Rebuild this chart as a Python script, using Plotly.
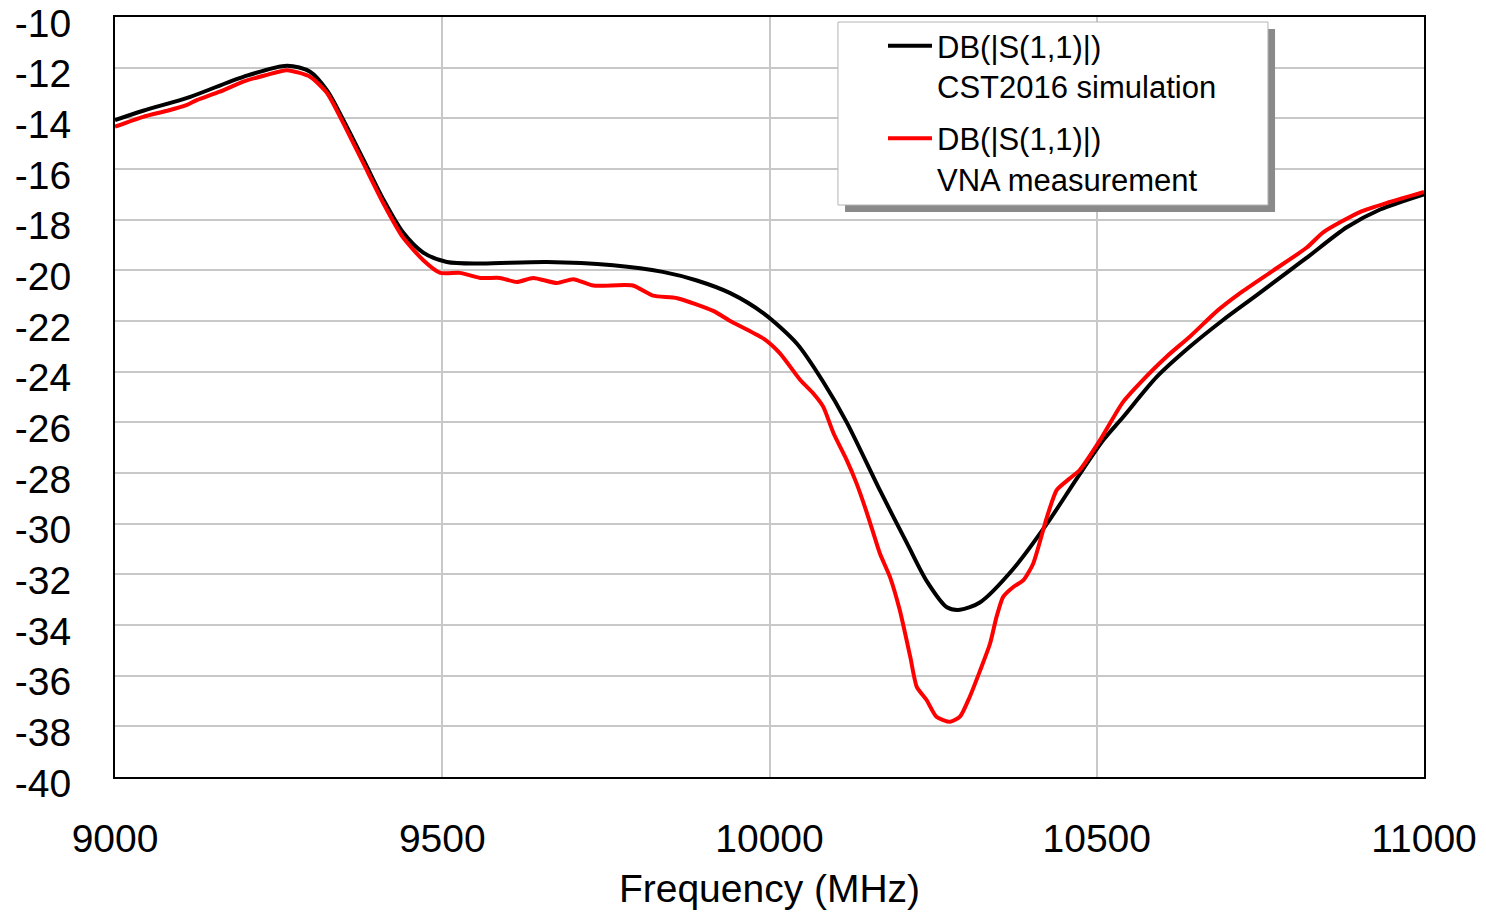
import plotly.graph_objects as go

# CST2016 simulation, DB(|S(1,1)|)
sim_freq = [9000, 9043, 9115, 9196, 9263, 9298, 9324, 9349, 9380, 9410, 9440, 9471, 9507,
            9558, 9660, 9761, 9837, 9889, 9940, 9991, 10042, 10082, 10118, 10169, 10210,
            10241, 10271, 10291, 10322, 10372, 10424, 10470, 10510, 10540, 10592, 10643,
            10693, 10745, 10795, 10821, 10882, 10933, 11000]
sim_db = [-14.07, -13.7, -13.15, -12.36, -11.92, -12.16, -12.9, -14.07, -15.65, -17.2, -18.5,
          -19.3, -19.67, -19.73, -19.67, -19.8, -20.06, -20.4, -20.9, -21.7, -22.9, -24.4,
          -26.0, -28.7, -30.77, -32.3, -33.3, -33.4, -33.1, -31.8, -30.0, -28.2, -26.7,
          -25.8, -24.2, -23.0, -21.96, -20.97, -20.0, -19.5, -18.3, -17.6, -17.0]

# VNA measurement, DB(|S(1,1)|)
vna_freq = [9000, 9043, 9080, 9110, 9125, 9160, 9196, 9230, 9263, 9298, 9324, 9349, 9380,
            9410, 9440, 9471, 9497, 9527, 9558, 9588, 9614, 9639, 9675, 9700, 9731, 9791,
            9822, 9859, 9914, 9940, 9991, 10016, 10047, 10067, 10082, 10098, 10118, 10133,
            10149, 10159, 10169, 10184, 10199, 10215, 10225, 10240, 10255, 10276, 10291,
            10306, 10322, 10337, 10347, 10357, 10373, 10388, 10403, 10424, 10439, 10459,
            10474, 10505, 10540, 10566, 10607, 10643, 10684, 10719, 10770, 10821, 10846,
            10902, 10948, 11000]
vna_db = [-14.33, -13.94, -13.7, -13.47, -13.28, -12.95, -12.55, -12.3, -12.1, -12.36, -13.0,
          -14.2, -15.8, -17.35, -18.7, -19.6, -20.1, -20.1, -20.3, -20.3, -20.46, -20.3,
          -20.5, -20.35, -20.6, -20.6, -21.0, -21.1, -21.6, -22.0, -22.7, -23.28, -24.33,
          -24.86, -25.38, -26.44, -27.49, -28.41, -29.59, -30.4, -31.2, -32.1, -33.41,
          -35.25, -36.44, -36.96, -37.62, -37.82, -37.62, -36.83, -35.78, -34.73, -33.67,
          -32.89, -32.49, -32.23, -31.57, -29.73, -28.67, -28.21, -27.88, -26.7, -25.2,
          -24.45, -23.4, -22.6, -21.6, -20.9, -20.0, -19.1, -18.5, -17.7, -17.3, -16.9]

x_ticks = [9000, 9500, 10000, 10500, 11000]
x_labels = ['9000', '9500', '10000', '10500', '11000']
y_ticks = list(range(-40, -9, 2))
y_labels = [str(v) for v in y_ticks]

font_family = 'Arial, Liberation Sans, sans-serif'

fig = go.Figure()
fig.add_trace(go.Scatter(x=sim_freq, y=sim_db, mode='lines', legendgroup='sim',
                         name='DB(|S(1,1)|)<br>CST2016 simulation',
                         line=dict(color='black', width=4, shape='spline', smoothing=0.8)))
fig.add_trace(go.Scatter(x=vna_freq, y=vna_db, mode='lines', legendgroup='vna',
                         name='DB(|S(1,1)|)<br>VNA measurement',
                         line=dict(color='#ff0000', width=4, shape='spline', smoothing=0.6)))

# legend frame: drop shadow then white box, the legend itself sits on top
fig.add_shape(type='rect', xref='paper', yref='paper',
              x0=0.5577, x1=0.8862, y0=0.7434, y1=0.9842,
              fillcolor='#8a8a8a', line_width=0, layer='above')
fig.add_shape(type='rect', xref='paper', yref='paper',
              x0=0.5523, x1=0.8808, y0=0.7526, y1=0.9934,
              fillcolor='white', line=dict(color='#b4b4b4', width=1), layer='above')

fig.update_xaxes(range=[9000, 11000], tickvals=x_ticks, ticktext=x_labels,
                 showgrid=True, gridcolor='#c8c8c8', gridwidth=2,
                 showline=True, linecolor='black', linewidth=2, mirror=True,
                 ticks='', ticklabelstandoff=26, ticklabeloverflow='allow',
                 tickfont=dict(size=39, color='black'), automargin=False,
                 title=dict(text='Frequency (MHz)', font=dict(size=39, color='black'), standoff=16),
                 zeroline=False)
fig.update_yaxes(range=[-40, -10], tickvals=y_ticks, ticktext=y_labels,
                 showgrid=True, gridcolor='#c8c8c8', gridwidth=2,
                 showline=True, linecolor='black', linewidth=2, mirror=True,
                 ticks='', ticklabelstandoff=34, ticklabeloverflow='allow',
                 ticklabelshift=6,
                 tickfont=dict(size=39, color='black'), automargin=False,
                 zeroline=False)

# page body adds an 8px offset, so the figure is 8px smaller each way
fig.update_layout(
    width=1478, height=906,
    margin=dict(l=107, r=62, t=9, b=137),
    paper_bgcolor='white', plot_bgcolor='white',
    font=dict(family=font_family, color='black'),
    legend=dict(x=0.5867, y=0.9974, xanchor='left', yanchor='top',
                bgcolor='rgba(0,0,0,0)', borderwidth=0, valign='top',
                font=dict(size=31, color='black'), itemwidth=44,
                tracegroupgap=9),
)

fig.write_html("out.html")
